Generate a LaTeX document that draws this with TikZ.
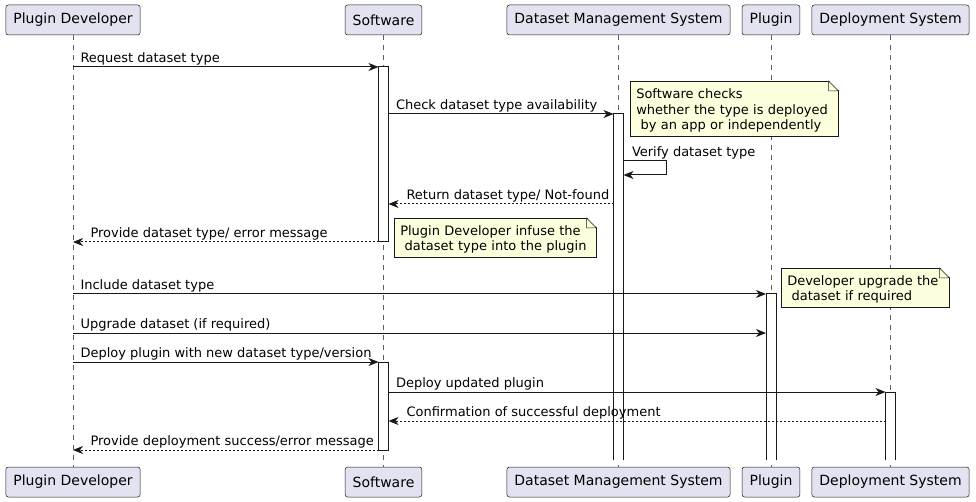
\documentclass[tikz,border=0pt]{standalone}
\usepackage{fontspec}
\setmainfont{DejaVu Sans}
\usepackage{xcolor}
\usetikzlibrary{arrows.meta}

\definecolor{partfill}{HTML}{E2E2F0}
\definecolor{umlline}{HTML}{181818}
\definecolor{notefill}{HTML}{FEFFDD}

\tikzset{
  participant/.style={draw=umlline, fill=partfill, rounded corners=2.5pt, line width=0.5pt,
    inner xsep=7.5pt, minimum height=30pt, font=\fontsize{14}{16}\selectfont},
  lifeline/.style={draw=umlline!70, line width=0.5pt, dash pattern=on 5pt off 5pt},
  actbar/.style={draw=umlline, fill=white, line width=1pt},
  msg/.style={draw=umlline, line width=1pt, -{Stealth[length=10pt,width=8pt,inset=3pt]}},
  reply/.style={msg, dash pattern=on 2pt off 2pt},
  msglbl/.style={font=\fontsize{13}{15.5}\selectfont, inner sep=0pt, anchor=south west, yshift=1.5pt},
  note/.style={draw=umlline, fill=notefill, line width=0.5pt, anchor=north west, align=left,
    inner xsep=6pt, inner ysep=4pt, font=\fontsize{13}{15.5}\selectfont}
}

% folded corner of a note
\newcommand{\foldcorner}[1]{%
  \fill[white] ([xshift=-10pt,yshift=1pt]#1.north east) -- ([xshift=1pt,yshift=1pt]#1.north east)
    -- ([xshift=1pt,yshift=-10pt]#1.north east) -- cycle;
  \filldraw[draw=umlline, fill=notefill, line width=0.5pt] ([xshift=-10pt]#1.north east)
    -- ([xshift=-10pt,yshift=-10pt]#1.north east) -- ([yshift=-10pt]#1.north east) -- cycle;}

\begin{document}
\begin{tikzpicture}[x=1pt, y=-1pt]
	\useasboundingbox (0,0) rectangle (976,502);

	% participants
	\node[participant] (devTop) at (73,20) {Plugin Developer};
	\node[participant] (swTop) at (383.5,20) {Software};
	\node[participant] (dmsTop) at (618.5,20) {Dataset Management System};
	\node[participant] (plgTop) at (771,20) {Plugin};
	\node[participant] (depTop) at (890.5,20) {Deployment System};

	\node[participant] (devBot) at (73,482) {Plugin Developer};
	\node[participant] (swBot) at (383.5,482) {Software};
	\node[participant] (dmsBot) at (618.5,482) {Dataset Management System};
	\node[participant] (plgBot) at (771,482) {Plugin};
	\node[participant] (depBot) at (890.5,482) {Deployment System};

	\draw[lifeline] (devTop) -- (devBot);
	\draw[lifeline] (swTop) -- (swBot);
	\draw[lifeline] (dmsTop) -- (dmsBot);
	\draw[lifeline] (plgTop) -- (plgBot);
	\draw[lifeline] (depTop) -- (depBot);

	% message rows
	\coordinate (r1) at (0,67);
	\coordinate (r2) at (0,114);
	\coordinate (r3) at (0,161);
	\coordinate (r3b) at (0,175);
	\coordinate (r4) at (0,204);
	\coordinate (r5) at (0,242);
	\coordinate (r6) at (0,294);
	\coordinate (r7) at (0,333);
	\coordinate (r8) at (0,362);
	\coordinate (r9) at (0,392);
	\coordinate (r10) at (0,421);
	\coordinate (r11) at (0,450);
	\coordinate (rEnd) at (0,460);

	% activations
	\filldraw[actbar] ([xshift=-5pt]swTop |- r1) rectangle ([xshift=5pt]swTop |- r5);
	\filldraw[actbar] ([xshift=-5pt]swTop |- r8) rectangle ([xshift=5pt]swTop |- r11);
	\fill[white] ([xshift=-5pt]dmsTop |- r2) rectangle ([xshift=5pt]dmsTop |- rEnd);
	\draw[actbar] ([xshift=-5pt]dmsTop |- rEnd) -- ([xshift=-5pt]dmsTop |- r2) -- ([xshift=5pt]dmsTop |- r2) -- ([xshift=5pt]dmsTop |- rEnd);
	\fill[white] ([xshift=-5pt]plgTop |- r6) rectangle ([xshift=5pt]plgTop |- rEnd);
	\draw[actbar] ([xshift=-5pt]plgTop |- rEnd) -- ([xshift=-5pt]plgTop |- r6) -- ([xshift=5pt]plgTop |- r6) -- ([xshift=5pt]plgTop |- rEnd);
	\fill[white] ([xshift=-5pt]depTop |- r9) rectangle ([xshift=5pt]depTop |- rEnd);
	\draw[actbar] ([xshift=-5pt]depTop |- rEnd) -- ([xshift=-5pt]depTop |- r9) -- ([xshift=5pt]depTop |- r9) -- ([xshift=5pt]depTop |- rEnd);

	% messages
	\draw[msg] (devTop |- r1) -- ([xshift=-5pt]swTop |- r1) node[msglbl, pos=0, xshift=7pt] {Request dataset type};
	\draw[msg] ([xshift=5pt]swTop |- r2) -- ([xshift=-5pt]dmsTop |- r2) node[msglbl, pos=0, xshift=7pt] {Check dataset type availability};
	\draw[msg] ([xshift=5pt]dmsTop |- r3) node[msglbl, xshift=8pt] {Verify dataset type} -- ++(43,0) -- ++(0,14) -- ([xshift=5pt]dmsTop |- r3b);
	\draw[reply] ([xshift=-5pt]dmsTop |- r4) -- ([xshift=5pt]swTop |- r4) node[msglbl, pos=1, xshift=17.5pt] {Return dataset type/ Not-found};
	\draw[reply] ([xshift=-5pt]swTop |- r5) -- (devTop |- r5) node[msglbl, pos=1, xshift=17pt] {Provide dataset type/ error message};
	\draw[msg] (devTop |- r6) -- ([xshift=-5pt]plgTop |- r6) node[msglbl, pos=0, xshift=7pt] {Include dataset type};
	\draw[msg] (devTop |- r7) -- ([xshift=-5pt]plgTop |- r7) node[msglbl, pos=0, xshift=7pt] {Upgrade dataset (if required)};
	\draw[msg] (devTop |- r8) -- ([xshift=-5pt]swTop |- r8) node[msglbl, pos=0, xshift=7pt] {Deploy plugin with new dataset type/version};
	\draw[msg] ([xshift=5pt]swTop |- r9) -- ([xshift=-5pt]depTop |- r9) node[msglbl, pos=0, xshift=7pt] {Deploy updated plugin};
	\draw[reply] ([xshift=-5pt]depTop |- r10) -- ([xshift=5pt]swTop |- r10) node[msglbl, pos=1, xshift=17.5pt] {Confirmation of successful deployment};
	\draw[reply] ([xshift=-5pt]swTop |- r11) -- (devTop |- r11) node[msglbl, pos=1, xshift=17pt] {Provide deployment success/error message};

	% notes
	\node[note, text width=196pt, minimum height=53pt] (checkNote) at (630,81) {\rule{0pt}{13.5pt}Software checks\\whether the type is deployed\\\ by an app or independently};
	\foldcorner{checkNote}
	\node[note, text width=190pt, minimum height=39pt] (infuseNote) at (394,218) {\rule{0pt}{13pt}Plugin Developer infuse the\\\ dataset type into the plugin};
	\foldcorner{infuseNote}
	\node[note, text width=156pt, minimum height=39pt] (upgradeNote) at (781,268) {\rule{0pt}{13pt}Developer upgrade the\\\ dataset if required};
	\foldcorner{upgradeNote}
\end{tikzpicture}
\end{document}
